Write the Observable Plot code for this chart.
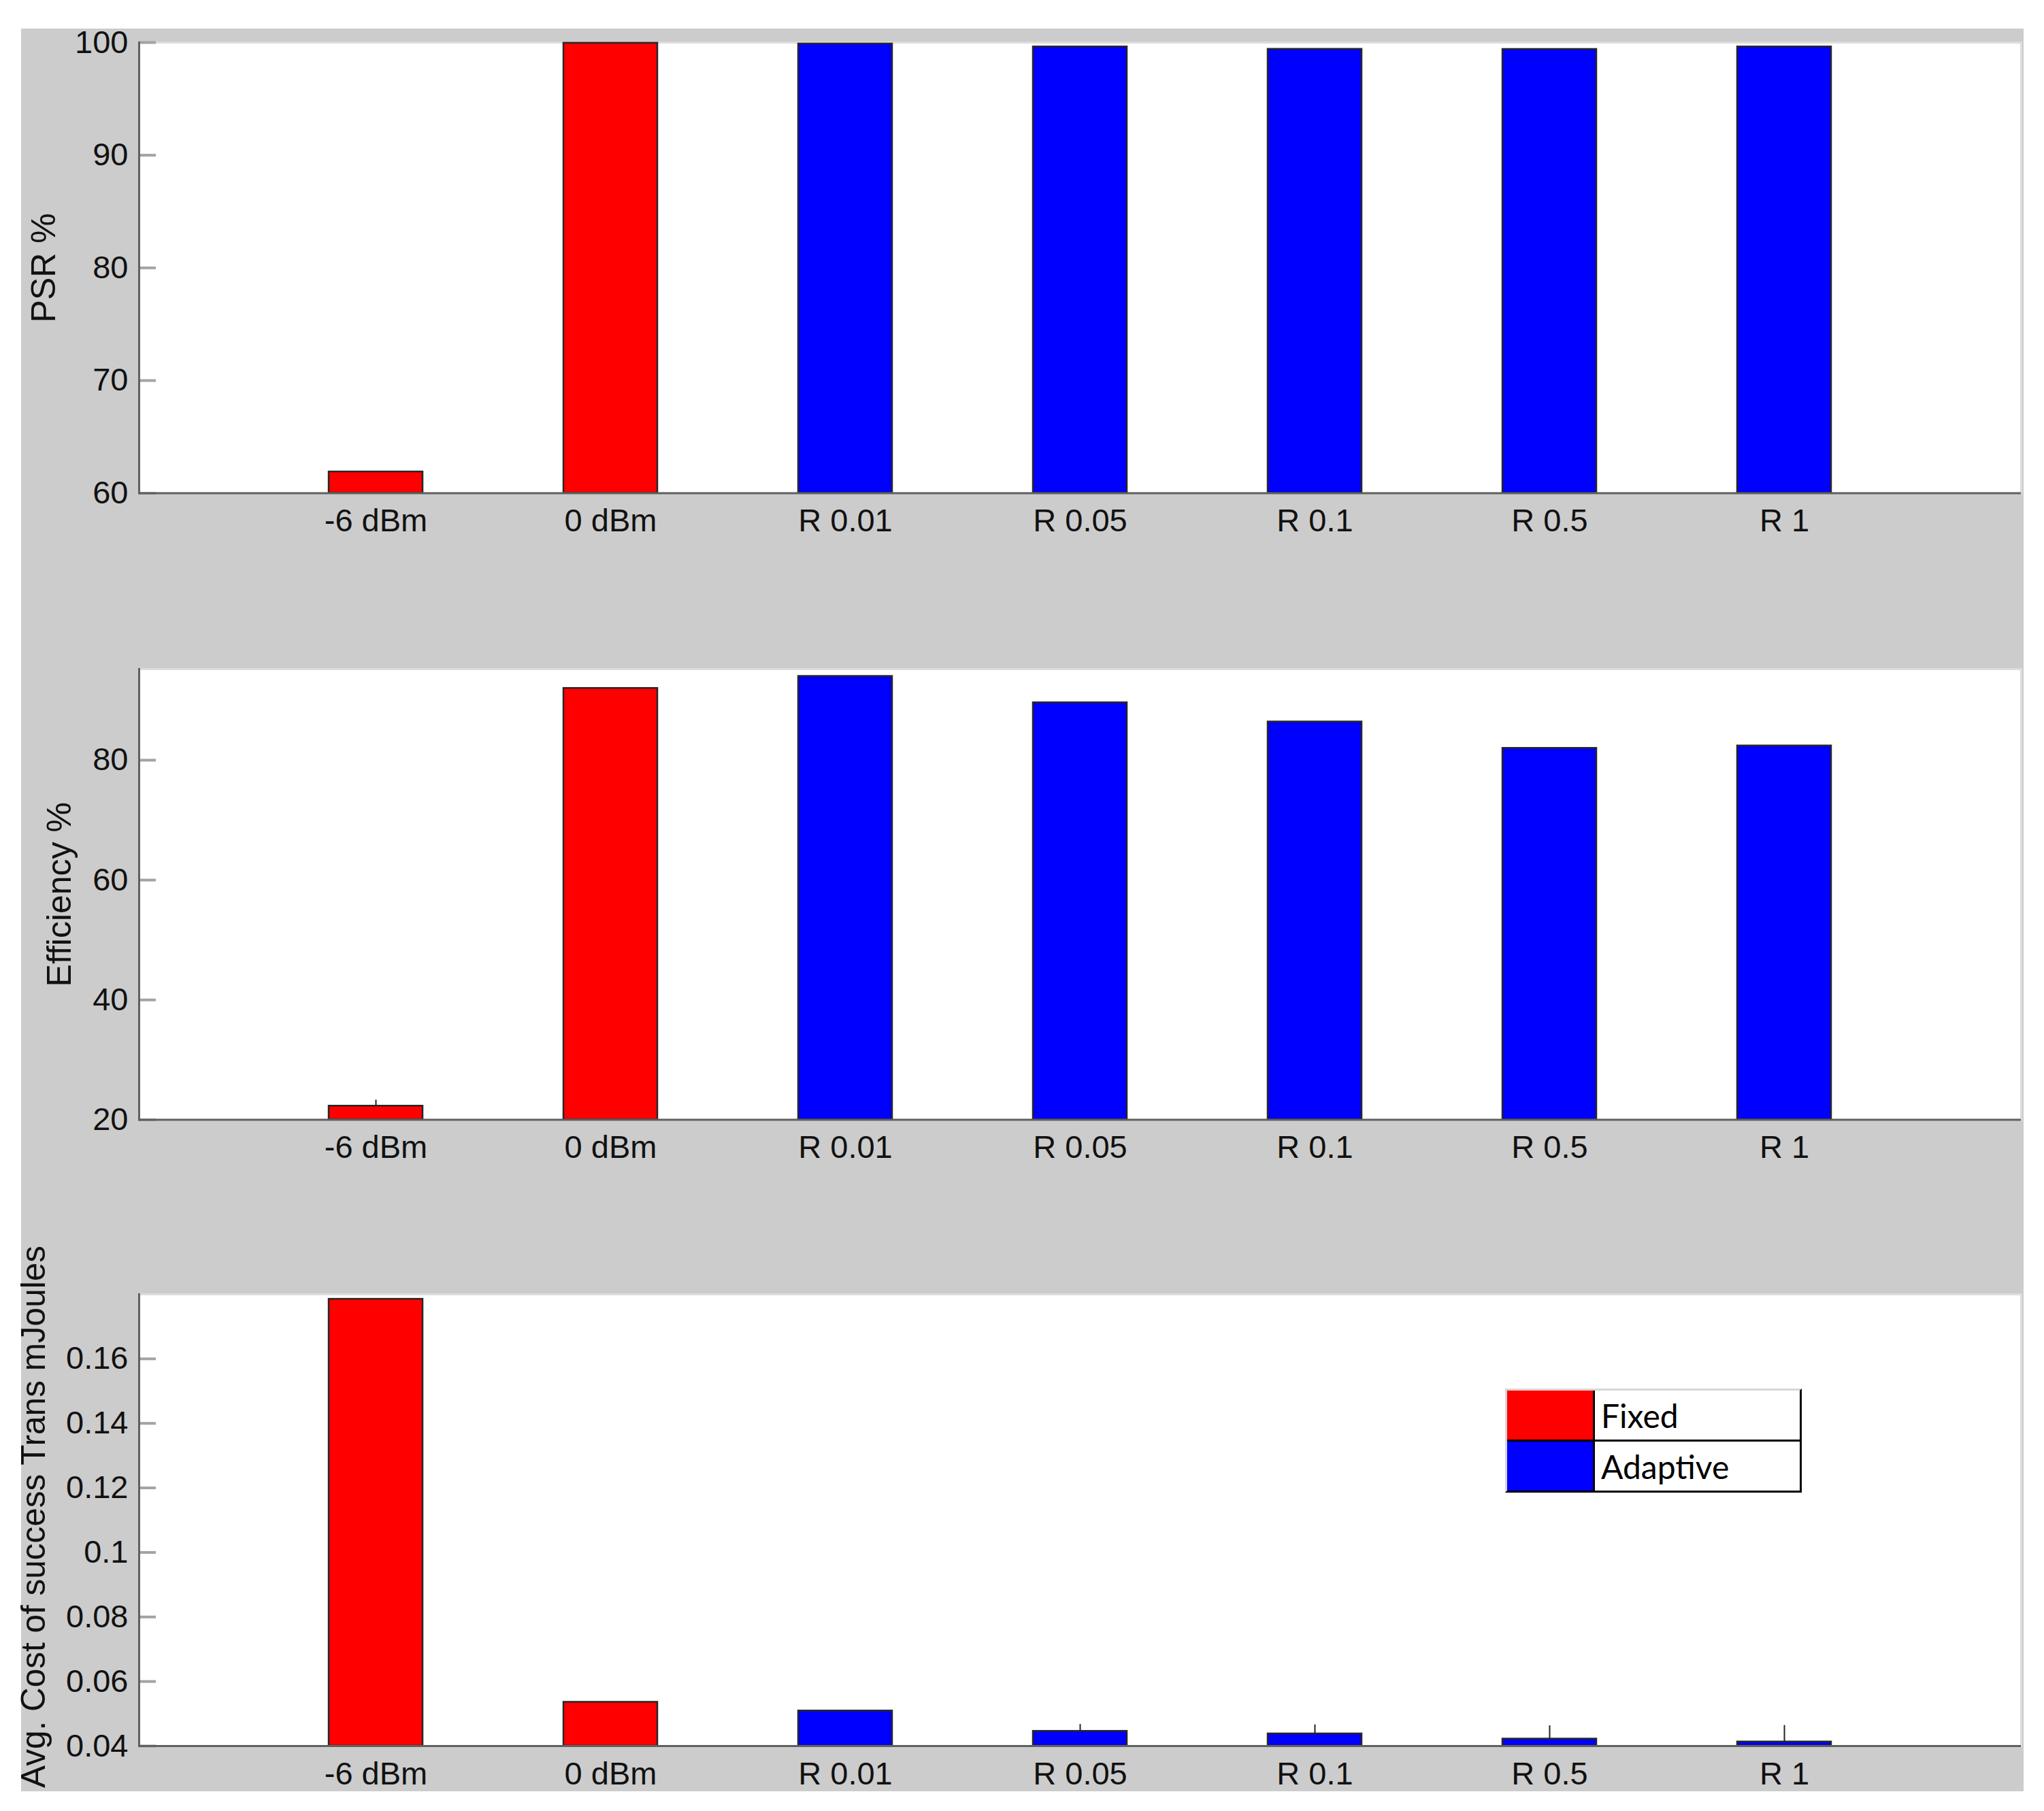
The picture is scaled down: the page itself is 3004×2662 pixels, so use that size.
<!DOCTYPE html>
<html>
<head>
<meta charset="utf-8">
<script src="https://cdn.jsdelivr.net/npm/d3@7"></script>
<script src="https://cdn.jsdelivr.net/npm/@observablehq/plot@0.6"></script>
<style>
  html, body { margin: 0; padding: 0; background: #ffffff; }
  #wrap { position: absolute; left: 31px; top: 42px; width: 2943px; height: 2591px; background: #cccccc; }
  #wrap svg { display: block; overflow: visible; }
  .legend { position: absolute; left: 2181px; top: 1999px; width: 436px; box-sizing: border-box;
            border-top: 3px solid #d6d6d6; border-left: 3px solid #d6d6d6;
            border-right: 3px solid #000; border-bottom: 3px solid #000; background: #fff; }
  .legend .row { display: flex; height: 72px; }
  .legend .row + .row { border-top: 3px solid #000; }
  .legend .sw { width: 126px; border-right: 3px solid #000; }
  .legend .lab { display: flex; align-items: center; padding-left: 9px; font-family: Lato, "Open Sans", sans-serif; font-size: 48px; color: #000; }
</style>
</head>
<body>
<div id="wrap"></div>
<script>
// ---- data ----
const categories = ["-6 dBm", "0 dBm", "R 0.01", "R 0.05", "R 0.1", "R 0.5", "R 1"];
const groups = ["Fixed", "Fixed", "Adaptive", "Adaptive", "Adaptive", "Adaptive", "Adaptive"];
const psr = [61.9, 99.95, 99.88, 99.62, 99.41, 99.40, 99.62];
const psrErr = [0, 0, 0, 0, 0, 0, 0];
const efficiency = [22.3, 92.0, 94.0, 89.6, 86.4, 82.0, 82.4];
const efficiencyErr = [1.0, 0, 0, 0, 0, 0, 0];
const cost = [0.1785, 0.0536, 0.0509, 0.0446, 0.0438, 0.0422, 0.0413];
const costErr = [0, 0, 0, 0.0021, 0.0028, 0.0041, 0.0051];
const psrTicks = [60, 70, 80, 90, 100];
const effTicks = [20, 40, 60, 80];
const costTicks = [0.04, 0.06, 0.08, 0.1, 0.12, 0.14, 0.16];
const legendLabels = ["Fixed", "Adaptive"];
const legendColors = ["#ff0000", "#0000ff"];

const wrap = document.getElementById("wrap");

function makeChart({values, errors, domain, ticks, tickFormat, label, labelDx, labelDy, labelSize, height, marginTop, marginBottom}) {
  const data = categories.map((c, i) => ({cat: c, group: groups[i], value: values[i], err: errors[i]}));
  const ymin = domain[0];
  return Plot.plot({
    width: 2943,
    height,
    marginTop,
    marginBottom,
    marginLeft: 173,
    marginRight: 4,
    style: {fontFamily: "'Liberation Sans', Arial, sans-serif", fontSize: "47px", color: "#1a1a1a", background: "transparent", overflow: "visible"},
    x: {type: "band", domain: categories, paddingInner: 0.6, paddingOuter: 0.8, label: null},
    y: {domain, label: null},
    color: {domain: legendLabels, range: legendColors},
    marks: [
      Plot.frame({fill: "#ffffff", stroke: "#dcdcdc", strokeWidth: 3}),
      Plot.ruleX(data.filter(d => d.err > 0), {x: "cat", y1: "value", y2: d => d.value + d.err, stroke: "#222", strokeWidth: 2}),
      Plot.barY(data, {x: "cat", y1: () => ymin, y2: "value", fill: "group", stroke: "#262626", strokeWidth: 2.5}),
      Plot.axisY({ticks, tickSize: 25, dx: 25, tickFormat: () => "", stroke: "#a3a3a3", strokeWidth: 4, label: null}),
      Plot.axisY({ticks, tickSize: 0, tickPadding: 16, tickFormat, label: null, fill: "#111"}),
      Plot.axisX({tickSize: 0, tickPadding: 23, label: null, fill: "#111"}),
      Plot.frame({anchor: "left", stroke: "#606060", strokeWidth: 3}),
      Plot.ruleY([ymin], {stroke: "#606060", strokeWidth: 3}),
      Plot.text([label], {frameAnchor: "left", text: d => d, rotate: -90, dx: labelDx, dy: labelDy, textAnchor: "middle", lineAnchor: "middle", fill: "#111", fontSize: labelSize})
    ]
  });
}

wrap.appendChild(makeChart({
  values: psr, errors: psrErr, domain: [60, 100], ticks: psrTicks, tickFormat: d => String(d),
  label: "PSR %", labelDx: -140, labelDy: 0, labelSize: 50, height: 900, marginTop: 20, marginBottom: 217.5
}));
wrap.appendChild(makeChart({
  values: efficiency, errors: efficiencyErr, domain: [20, 95.2], ticks: effTicks, tickFormat: d => String(d),
  label: "Efficiency %", labelDx: -117, labelDy: 0, labelSize: 50, height: 858, marginTop: 41, marginBottom: 154.5
}));
wrap.appendChild(makeChart({
  values: cost, errors: costErr, domain: [0.04, 0.18], ticks: costTicks, tickFormat: d => String(+d.toFixed(2)),
  label: "Avg. Cost of success Trans mJoules", labelDx: -154, labelDy: -5, labelSize: 49.5, height: 833, marginTop: 102, marginBottom: 67
}));

// legend
const legend = document.createElement("div");
legend.className = "legend";
legendLabels.forEach((l, i) => {
  const row = document.createElement("div");
  row.className = "row";
  const sw = document.createElement("div");
  sw.className = "sw";
  sw.style.background = legendColors[i];
  const lab = document.createElement("div");
  lab.className = "lab";
  lab.textContent = l;
  row.appendChild(sw);
  row.appendChild(lab);
  legend.appendChild(row);
});
wrap.appendChild(legend);
</script>
</body>
</html>
